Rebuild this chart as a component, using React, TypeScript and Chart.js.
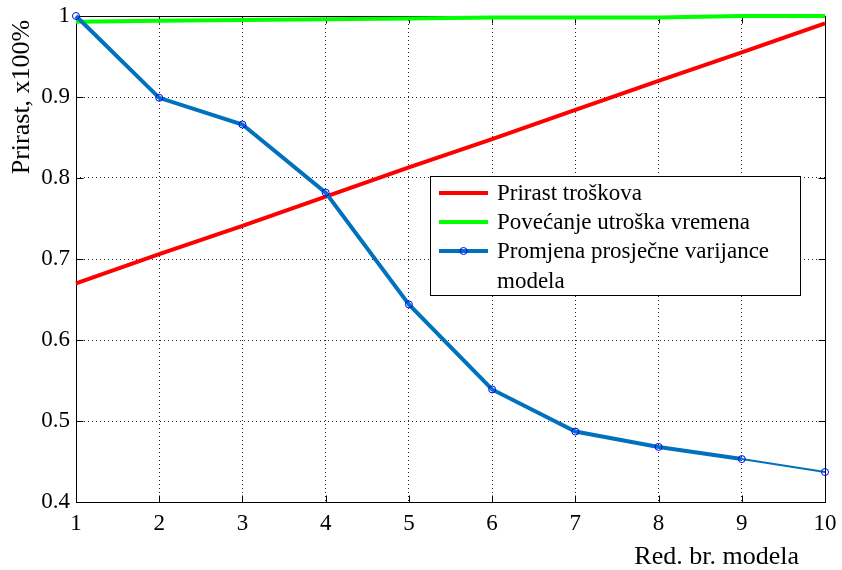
import React, { useEffect, useRef } from 'react';
import { Chart, registerables } from 'chart.js';

Chart.register(...registerables);

const categories = [1, 2, 3, 4, 5, 6, 7, 8, 9, 10];
const costGrowth = [0.670, 0.706, 0.741, 0.777, 0.813, 0.848, 0.884, 0.920, 0.955, 0.991];
const timeIncrease = [0.993, 0.994, 0.995, 0.996, 0.997, 0.998, 0.998, 0.998, 1.0, 1.0];
const varianceChange = [1.0, 0.899, 0.866, 0.782, 0.644, 0.539, 0.487, 0.468, 0.453, 0.437];
const seriesLabels = ['Prirast troškova', 'Povećanje utroška vremena', 'Promjena prosječne varijance'];
const legendExtraLine = 'modela';
const xTitle = 'Red. br. modela';
const yTitle = 'Prirast, x100%';

const RED = '#ff0000';
const GREEN = '#00ff00';
const BLUE = '#0072bd';
const MARKER = '#0000ff';
const FONT = "'Liberation Serif', 'DejaVu Serif', serif";

const decorPlugin = {
  id: 'decor',
  beforeDatasetsDraw(chart: any) {
    const { ctx, chartArea } = chart;
    const { left, right, top, bottom } = chartArea;
    ctx.save();
    ctx.strokeStyle = '#000';
    ctx.lineWidth = 1;
    ctx.setLineDash([]);
    const L = Math.round(left) + 0.5;
    const R = Math.round(right) + 0.5;
    const T = Math.round(top) + 0.5;
    const B = Math.round(bottom) + 0.5;
    ctx.strokeRect(L, T, R - L, B - T);
    const tl = 7;
    const xs = chart.scales.x;
    xs.ticks.forEach((t: any) => {
      const px = Math.round(xs.getPixelForValue(t.value)) + 0.5;
      ctx.beginPath();
      ctx.moveTo(px, B);
      ctx.lineTo(px, B - tl);
      ctx.moveTo(px, T);
      ctx.lineTo(px, T + tl);
      ctx.stroke();
    });
    const ys = chart.scales.y;
    ys.ticks.forEach((t: any) => {
      const py = Math.round(ys.getPixelForValue(t.value)) + 0.5;
      ctx.beginPath();
      ctx.moveTo(L, py);
      ctx.lineTo(L + tl, py);
      ctx.moveTo(R, py);
      ctx.lineTo(R - tl, py);
      ctx.stroke();
    });
    ctx.restore();
  },
  afterDraw(chart: any) {
    const { ctx } = chart;
    ctx.save();
    // axis titles
    ctx.fillStyle = '#000';
    ctx.font = `26px ${FONT}`;
    ctx.textAlign = 'right';
    ctx.textBaseline = 'middle';
    ctx.fillText(xTitle, 799, 557);
    ctx.translate(22, 97);
    ctx.rotate(-Math.PI / 2);
    ctx.textAlign = 'center';
    ctx.fillText(yTitle, 0, 0);
    ctx.restore();

    // legend
    ctx.save();
    const bx = 430.5, by = 176.5, bw = 370, bh = 119;
    ctx.fillStyle = '#fff';
    ctx.fillRect(bx, by, bw, bh);
    ctx.strokeStyle = '#000';
    ctx.lineWidth = 1;
    ctx.strokeRect(bx, by, bw, bh);
    const rows = [193, 222, 251];
    const colors = [RED, GREEN, BLUE];
    ctx.font = `23px ${FONT}`;
    ctx.textAlign = 'left';
    ctx.textBaseline = 'middle';
    rows.forEach((y, i) => {
      ctx.strokeStyle = colors[i];
      ctx.lineWidth = 4;
      ctx.beginPath();
      ctx.moveTo(439, y);
      ctx.lineTo(488, y);
      ctx.stroke();
      if (i === 2) {
        ctx.lineWidth = 1;
        ctx.strokeStyle = MARKER;
        ctx.beginPath();
        ctx.arc(463.5, y, 3.5, 0, Math.PI * 2);
        ctx.stroke();
      }
      ctx.fillStyle = '#000';
      ctx.fillText(seriesLabels[i], 497, y + 1);
    });
    ctx.fillText(legendExtraLine, 497, 282);
    ctx.restore();
  },
};

export default function App() {
  const ref = useRef<HTMLCanvasElement>(null);
  useEffect(() => {
    document.body.style.margin = '0';
    const canvas = ref.current!;
    const chart = new Chart(canvas, {
      type: 'line',
      data: {
        labels: categories,
        datasets: [
          {
            label: seriesLabels[0],
            data: categories.map((c, i) => ({ x: c, y: costGrowth[i] })),
            borderColor: RED,
            borderWidth: 4,
            pointRadius: 0,
            fill: false,
            order: 3,
            clip: false as any,
          },
          {
            label: seriesLabels[1],
            data: categories.map((c, i) => ({ x: c, y: timeIncrease[i] })),
            borderColor: GREEN,
            borderWidth: 4,
            pointRadius: 0,
            fill: false,
            order: 2,
            clip: false as any,
          },
          {
            label: seriesLabels[2],
            data: categories.map((c, i) => ({ x: c, y: varianceChange[i] })),
            borderColor: BLUE,
            borderWidth: 4,
            pointRadius: 3.5,
            pointBorderWidth: 1,
            pointBorderColor: MARKER,
            pointBackgroundColor: 'rgba(0,0,0,0)',
            fill: false,
            order: 1,
            clip: false as any,
            segment: {
              borderWidth: (c: any) => (c.p0DataIndex === 8 ? 2 : 4),
            },
          },
        ],
      },
      options: {
        animation: false,
        responsive: false,
        devicePixelRatio: 1,
        layout: { padding: { top: 16, right: 17, left: 0, bottom: 0 } },
        plugins: { legend: { display: false }, tooltip: { enabled: false } },
        font: { family: FONT },
        scales: {
          x: {
            type: 'linear',
            min: 1,
            max: 10,
            afterFit: (s: any) => {
              s.height = 68;
              s.paddingLeft = 0;
              s.paddingRight = 0;
            },
            ticks: {
              stepSize: 1,
              color: '#000',
              padding: 8,
              font: { family: FONT, size: 23 },
              maxRotation: 0,
            },
            grid: { color: '#222', lineWidth: 1, drawTicks: false },
            border: { display: false, dash: [1, 3] },
          },
          y: {
            type: 'linear',
            min: 0.4,
            max: 1,
            afterFit: (s: any) => {
              s.width = 76;
              s.paddingTop = 0;
              s.paddingBottom = 0;
            },
            ticks: {
              stepSize: 0.1,
              color: '#000',
              padding: 6,
              font: { family: FONT, size: 23 },
              callback: (v: any) => String(Number(Number(v).toFixed(1))),
            },
            grid: { color: '#222', lineWidth: 1, drawTicks: false },
            border: { display: false, dash: [1, 3] },
          },
        },
      } as any,
      plugins: [decorPlugin],
    });
    return () => chart.destroy();
  }, []);
  return <canvas ref={ref} width={842} height={570} style={{ display: 'block' }} />;
}
